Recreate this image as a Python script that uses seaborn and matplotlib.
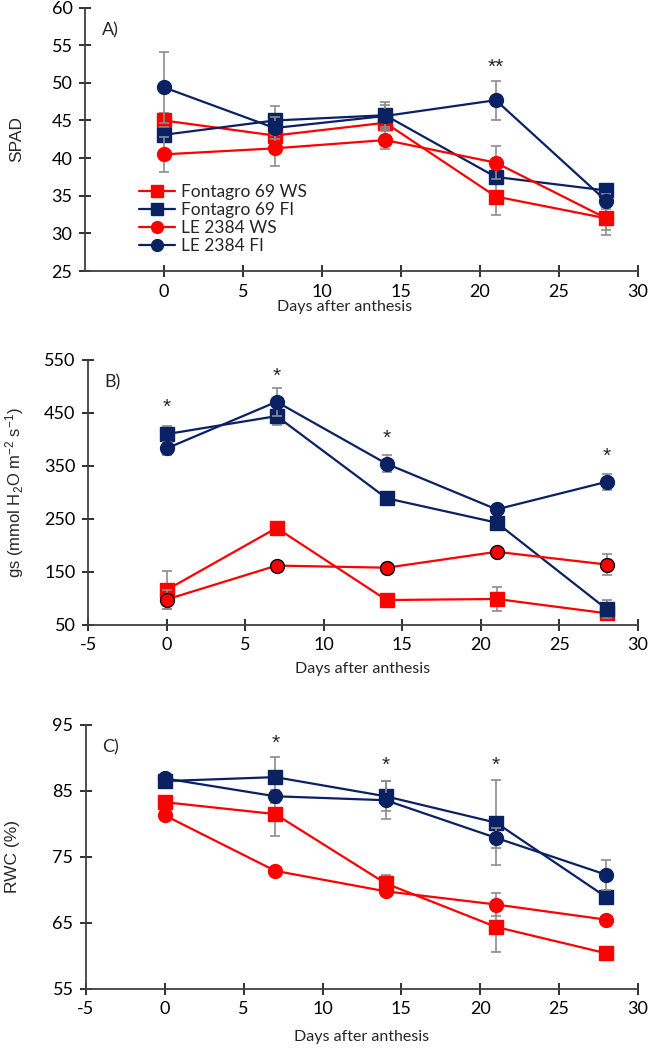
import numpy as np
import pandas as pd
import matplotlib
matplotlib.use('Agg')
import matplotlib.pyplot as plt
import seaborn as sns

# days after anthesis
days = [0, 7, 14, 21, 28]
series_names = ['Fontagro 69 WS', 'Fontagro 69 FI', 'LE 2384 WS', 'LE 2384 FI']

# A) SPAD
spad_f69_ws = [45.0, 43.0, 44.7, 34.9, 32.0]
spad_f69_fi = [43.1, 45.0, 45.7, 37.5, 35.7]
spad_le_ws = [40.5, 41.3, 42.4, 39.4, 32.0]
spad_le_fi = [49.4, 44.0, 45.6, 47.7, 34.3]
spad_f69_ws_err = [1.0, 1.5, 1.0, 2.5, 2.2]
spad_f69_fi_err = [1.0, 1.9, 1.8, 1.0, 0.8]
spad_le_ws_err = [2.3, 2.3, 1.2, 2.2, 1.5]
spad_le_fi_err = [4.7, 1.5, 1.5, 2.6, 1.0]

# B) gs
gs_f69_ws = [116, 233, 97, 99, 72]
gs_f69_fi = [410, 444, 289, 243, 80]
gs_le_ws = [98, 162, 158, 188, 164]
gs_le_fi = [383, 471, 354, 268, 320]
gs_f69_ws_err = [35, 5, 5, 23, 5]
gs_f69_fi_err = [15, 17, 5, 10, 17]
gs_le_ws_err = [18, 5, 5, 5, 19]
gs_le_fi_err = [13, 26, 16, 8, 15]

# C) RWC
rwc_f69_ws = [83.3, 81.5, 71.0, 64.4, 60.4]
rwc_f69_fi = [86.5, 87.1, 84.2, 80.2, 68.9]
rwc_le_ws = [81.3, 72.9, 69.8, 67.8, 65.5]
rwc_le_fi = [86.9, 84.2, 83.6, 77.9, 72.3]
rwc_f69_ws_err = [0.5, 3.3, 1.2, 3.8, 0.5]
rwc_f69_fi_err = [0.5, 3.1, 2.3, 6.4, 1.0]
rwc_le_ws_err = [0.5, 0.5, 0.5, 1.7, 0.5]
rwc_le_fi_err = [0.5, 1.0, 2.9, 1.5, 2.3]

# significance marks (x, y, text)
stars_a = [(21, 52.0, '**')]
stars_b = [(0, 460, '*'), (7, 519, '*'), (14, 402, '*'), (28, 368, '*')]
stars_c = [(7, 92.2, '*'), (14, 88.9, '*'), (21, 88.9, '*')]

RED = '#FF0000'
NAVY = '#0A2163'
colors = [RED, NAVY, RED, NAVY]
markers = ['s', 's', 'o', 'o']

sns.set_theme(style='ticks')
plt.rcParams['font.family'] = ['Lato', 'DejaVu Sans']
plt.rcParams['axes.unicode_minus'] = False
plt.rcParams['mathtext.fontset'] = 'custom'
plt.rcParams['mathtext.rm'] = 'Liberation Sans'
plt.rcParams['mathtext.it'] = 'Liberation Sans:italic'

def panel(ax, vals, errs, ylim, yticks, ylabel, tag, stars, xticks, ylab_x,
          red_circle_edge=False, xlab_y=-0.155, xlab_x=0.5, ylab_size=12.5):
    for i, (name, v, e) in enumerate(zip(series_names, vals, errs)):
        df = pd.DataFrame({'day': days, 'val': v})
        ax.errorbar(days, v, yerr=e, fmt='none', ecolor='#8C8C8C', elinewidth=1.2,
                    capsize=3.5, capthick=1.2, zorder=2 + i * 2)
        ec = colors[i]
        if red_circle_edge and markers[i] == 'o' and colors[i] == RED:
            ec = 'black'
        sns.lineplot(data=df, x='day', y='val', ax=ax, color=colors[i], marker=markers[i],
                     markersize=9.5 if markers[i] == 's' else 10, markeredgecolor=ec,
                     markeredgewidth=1.0, linewidth=1.6, label=name, zorder=3 + i * 2)
    ax.set_xlim(-5, 30)
    ax.set_ylim(*ylim)
    ax.set_xticks(xticks)
    ax.set_yticks(yticks)
    sns.despine(ax=ax)
    for sp in ['left', 'bottom']:
        ax.spines[sp].set_color('#404040')
        ax.spines[sp].set_linewidth(1.3)
    ax.tick_params(direction='inout', length=8, width=1.3, color='#202020',
                   labelsize=13, labelcolor='black', pad=5)
    ax.set_xlabel('Days after anthesis', fontsize=11.5)
    ax.xaxis.set_label_coords(xlab_x, xlab_y)
    ax.set_ylabel(ylabel, fontsize=ylab_size, family=['Liberation Sans', 'DejaVu Sans'])
    ax.yaxis.set_label_coords(ylab_x, 0.5)
    ax.text(0.03, 0.915, tag, transform=ax.transAxes, fontsize=13, va='center')
    for x, y, s in stars:
        ax.text(x, y, s, ha='center', va='center', fontsize=15,
                family=['Liberation Sans', 'DejaVu Sans'])
    ax.grid(False)

fig = plt.figure(figsize=(6.49, 10.53), dpi=100)
axA = fig.add_axes([0.131, 0.7426, 0.852, 0.2502])
axB = fig.add_axes([0.1356, 0.4065, 0.8475, 0.2517])
axC = fig.add_axes([0.1325, 0.0608, 0.8505, 0.2507])

panel(axA, [spad_f69_ws, spad_f69_fi, spad_le_ws, spad_le_fi],
      [spad_f69_ws_err, spad_f69_fi_err, spad_le_ws_err, spad_le_fi_err],
      (25, 60), [25, 30, 35, 40, 45, 50, 55, 60], 'SPAD', 'A)', stars_a,
      [0, 5, 10, 15, 20, 25, 30], -0.11, xlab_x=0.47, xlab_y=-0.11)
axA.legend(loc='upper left', bbox_to_anchor=(0.085, 0.355), frameon=False,
           fontsize=12.5, handlelength=2.1, labelspacing=0.1, handletextpad=0.3,
           borderaxespad=0, markerscale=0.85)

panel(axB, [gs_f69_ws, gs_f69_fi, gs_le_ws, gs_le_fi],
      [gs_f69_ws_err, gs_f69_fi_err, gs_le_ws_err, gs_le_fi_err],
      (50, 550), [50, 150, 250, 350, 450, 550],
      'gs (mmol H$_2$O m$^{-2}$ s$^{-1}$)', 'B)', stars_b,
      [-5, 0, 5, 10, 15, 20, 25, 30], -0.112, red_circle_edge=True,
      xlab_y=-0.138, ylab_size=12)
axB.get_legend().remove()

panel(axC, [rwc_f69_ws, rwc_f69_fi, rwc_le_ws, rwc_le_fi],
      [rwc_f69_ws_err, rwc_f69_fi_err, rwc_le_ws_err, rwc_le_fi_err],
      (55, 95), [55, 65, 75, 85, 95], 'RWC (%)', 'C)', stars_c,
      [-5, 0, 5, 10, 15, 20, 25, 30], -0.12)
axC.get_legend().remove()

fig.savefig('out.png', dpi=100)
